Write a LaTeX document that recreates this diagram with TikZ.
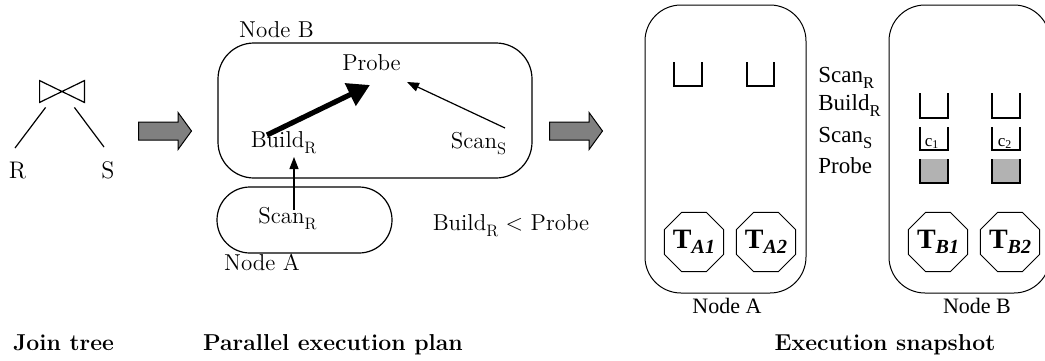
\documentclass[tikz,border=0pt]{standalone}
\usepackage{fontspec}
\newfontfamily\timesfont{Liberation Serif}
\usetikzlibrary{arrows.meta}
\usetikzlibrary{shapes.geometric}
\usetikzlibrary{shapes.arrows}
\tikzset{
    plantext/.style = {inner sep=0pt, anchor=base, font=\fontsize{11.5}{13}\selectfont},
    treetext/.style = {inner sep=0pt, anchor=base, font=\fontsize{12}{14}\selectfont},
    snaptext/.style = {inner sep=0pt, anchor=base west, font=\timesfont\fontsize{11.5}{13}\selectfont},
    nodelabel/.style = {inner sep=0pt, anchor=base, font=\timesfont\fontsize{11}{13}\selectfont},
    cntlabel/.style = {inner sep=0pt, anchor=base, font=\timesfont\fontsize{8.5}{9}\selectfont},
    caption/.style = {inner sep=0pt, anchor=base, font=\bfseries\fontsize{11.5}{13}\selectfont},
    thread/.style = {regular polygon, regular polygon sides=8, draw=black, line width=0.5pt, minimum size=32pt, inner sep=0pt, font=\timesfont},
    fatarrow/.style = {single arrow, draw=black, line width=0.5pt, fill=gray, anchor=tail, minimum height=26.5pt, inner xsep=0pt, inner ysep=4.25pt, single arrow head extend=4.75pt, single arrow tip angle=108},
    siteframe/.style = {draw=black, line width=0.6pt, rounded corners=18pt},
    bucket/.style = {draw=black, line width=0.6pt},
    edgen/.style = {-{Triangle[length=6pt,width=4.5pt]}, line width=0.6pt},
    edgek/.style = {-{Triangle[length=11pt,width=12pt]}, line width=2.6pt},
}
% low subscript as in the plan labels
\newcommand{\lsub}[1]{\raisebox{-0.28em}{\scalebox{0.72}{#1}}}
\newcommand{\thrlabel}[1]{{\fontsize{14}{14}\selectfont\bfseries T\raisebox{-2.8pt}{\fontsize{10}{10}\selectfont\itshape #1}}}

\begin{document}
\begin{tikzpicture}[x=0.5pt, y=-0.5pt]
  \path[use as bounding box, clip] (0,0) rectangle (1045,360);

  % join tree
  \node[minimum width=22pt, minimum height=10.5pt, inner sep=0pt] (join) at (62,91.5) {};
  \draw[line width=0.6pt] (join.north west) -- (join.south west) -- (join.north east) -- (join.south east) -- cycle;
  \node[treetext] (rel) at (17.5,178) {R};
  \node[treetext] (rels) at (108,178) {S};
  \draw[line width=0.6pt] ([xshift=3pt,yshift=-2.5pt]join.south west) -- ([xshift=-1.25pt,yshift=15pt]rel.base);
  \draw[line width=0.6pt] ([xshift=-5pt,yshift=-2.5pt]join.south east) -- ([xshift=-2pt,yshift=15.5pt]rels.base);

  \node[fatarrow] (toplan) at (138,131) {};
  \node[fatarrow] (tosnap) at (549,131) {};

  % parallel execution plan
  \draw[siteframe] (218,43) rectangle (532,178);
  \draw[siteframe, rounded corners=16.5pt] (217,187) rectangle (392,253);
  \node[plantext] (labB) at (276.5,37) {Node B};
  \node[plantext] (probe) at (371.5,70) {Probe};
  \node[plantext] (build) at (283.5,147) {Build\lsub{R}};
  \node[plantext] (scanS) at (478.5,148) {Scan\lsub{S}};
  \node[plantext] (scanR) at (287.5,223) {Scan\lsub{R}};
  \node[plantext] (labA) at (262,270) {Node A};
  \node[plantext] (order) at (511,230) {Build\lsub{R} < Probe};

  \draw[edgek] ([xshift=-8.25pt,yshift=6pt]build.base) -- ([xshift=-0.75pt,yshift=-7.5pt]probe.base);
  \draw[edgen] ([xshift=13.25pt,yshift=10pt]scanS.base) -- ([xshift=17.75pt,yshift=-6pt]probe.base);
  \draw[edgen] ([xshift=3.25pt,yshift=6.5pt]scanR.base) -- ([xshift=5.25pt,yshift=-5pt]build.base);

  % execution snapshot
  \draw[siteframe, line width=0.5pt] (645,5) rectangle (806,293);
  \draw[siteframe, line width=0.5pt] (889,5) rectangle (1050,293);

  \draw[bucket] (674,62) -- (674,86) -- (702,86) -- (702,62);
  \draw[bucket] (747,62) -- (747,86) -- (774,86) -- (774,62);

  \draw[bucket] (920,93) -- (920,118) -- (948,118) -- (948,93);
  \draw[bucket] (992,93) -- (992,118) -- (1020,118) -- (1020,93);
  \draw[bucket] (920,127) -- (920,150) -- (948,150) -- (948,127);
  \draw[bucket] (992,127) -- (992,150) -- (1020,150) -- (1020,127);
  \fill[gray!60] (920,159) rectangle (948,183);
  \fill[gray!60] (992,159) rectangle (1020,183);
  \draw[bucket] (920,159) -- (920,183) -- (948,183) -- (948,159);
  \draw[bucket] (992,159) -- (992,183) -- (1020,183) -- (1020,159);
  \node[cntlabel] (cA) at (932,146) {c\textsubscript{1}};
  \node[cntlabel] (cB) at (1005,146) {c\textsubscript{2}};

  \node[snaptext] (sScanR) at (818,82) {Scan\lsub{R}};
  \node[snaptext] (sBuildR) at (818,110) {Build\lsub{R}};
  \node[snaptext] (sScanS) at (818,142) {Scan\lsub{S}};
  \node[snaptext] (sProbe) at (818,173) {Probe};

  \node[thread] (ta1) at (694,242) {\thrlabel{A1}};
  \node[thread] (ta2) at (766,242) {\thrlabel{A2}};
  \node[thread] (tb1) at (938,242) {\thrlabel{B1}};
  \node[thread] (tb2) at (1010,242) {\thrlabel{B2}};

  \node[nodelabel] (snapA) at (727,313) {Node A};
  \node[nodelabel] (snapB) at (977,313) {Node B};

  % captions
  \node[caption] (capTree) at (63.5,350) {Join tree};
  \node[caption] (capPlan) at (333,350) {Parallel execution plan};
  \node[caption] (capSnap) at (885,350) {Execution snapshot};
\end{tikzpicture}
\end{document}
